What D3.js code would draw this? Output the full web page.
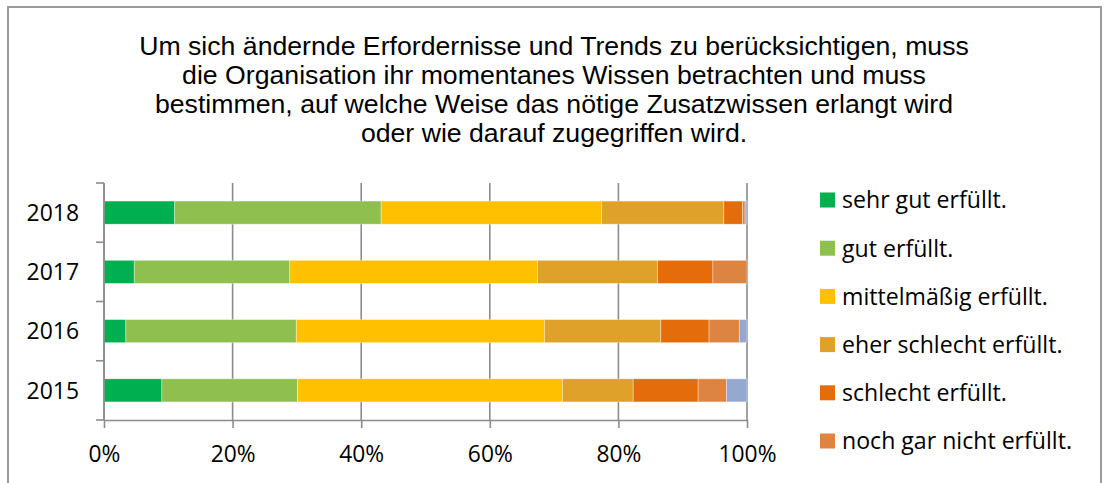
<!DOCTYPE html>
<html>
<head>
<meta charset="utf-8">
<script src="https://cdn.jsdelivr.net/npm/d3@7"></script>
<style>
  html, body { margin: 0; padding: 0; background: #fff; }
  svg { display: block; }
</style>
</head>
<body>
<svg id="chart" width="1105" height="483"></svg>
<script>
// ---- data ----
const titleLines = [
  "Um sich ändernde Erfordernisse und Trends zu berücksichtigen, muss",
  "die Organisation ihr momentanes Wissen betrachten und muss",
  "bestimmen, auf welche Weise das nötige Zusatzwissen erlangt wird",
  "oder wie darauf zugegriffen wird."
];
const years = ["2018", "2017", "2016", "2015"];
const seriesNames = [
  "sehr gut erfüllt.",
  "gut erfüllt.",
  "mittelmäßig erfüllt.",
  "eher schlecht erfüllt.",
  "schlecht erfüllt.",
  "noch gar nicht erfüllt.",
  "keine Angabe."
];
const seriesColors = ["#00B050", "#8FBF4F", "#FFC000", "#E0A12A", "#E46C0A", "#DD8442", "#95A9D0"];
// percentages per year, one array per series (order of years above)
const sehrGut      = [11.0,  4.7,  3.4,  9.0];
const gut          = [32.1, 24.2, 26.5, 21.1];
const mittelmaessig= [34.3, 38.5, 38.6, 41.2];
const eherSchlecht = [19.0, 18.7, 18.1, 11.0];
const schlecht     = [ 2.9,  8.6,  7.5, 10.1];
const nochGarNicht = [ 0.4,  5.3,  4.7,  4.4];
const keineAngabe  = [ 0.3,  0.0,  1.2,  3.2];
const xTicks = [0, 0.2, 0.4, 0.6, 0.8, 1.0];
const visibleLegendItems = 6; // the 7th entry lies below the visible area

const seriesValues = [sehrGut, gut, mittelmaessig, eherSchlecht, schlecht, nochGarNicht, keineAngabe];

// ---- build table ----
const rows = years.map((y, i) => {
  const r = { year: y };
  let total = 0;
  seriesValues.forEach(s => total += s[i]);
  seriesNames.forEach((n, k) => r[n] = seriesValues[k][i] / total);
  return r;
});
const stacked = d3.stack().keys(seriesNames)(rows);

const svg = d3.select("#chart");
const calibri = "'Open Sans', Lato, sans-serif";

function fitFont(sel, base, targetWidth) {
  sel.attr("font-size", base);
  const w = sel.node().getComputedTextLength();
  return base * targetWidth / w;
}

// outer border
svg.append("rect")
  .attr("x", 8).attr("y", 7).attr("width", 1093).attr("height", 520)
  .attr("fill", "#fff").attr("stroke", "#9a9a9a").attr("stroke-width", 2);

// title
const title = svg.append("g");
titleLines.forEach((t, i) => {
  title.append("text")
    .attr("x", 554).attr("y", 55 + i * 29)
    .attr("text-anchor", "middle")
    .attr("font-family", "'Liberation Sans', Arial, sans-serif")
    .attr("font-size", 22)
    .attr("fill", "#000")
    .text(t);
});
{
  const fs = fitFont(title.select("text"), 22, 830);
  title.selectAll("text").attr("font-size", fs.toFixed(2));
}

// scales
const x = d3.scaleLinear().domain([0, 1]).range([104, 747]);
const y = d3.scaleBand().domain(years).range([183, 420]).paddingInner(0.61).paddingOuter(0.305);

const axisColor = "#8c8c8c";

// gridlines
svg.append("g").selectAll("line").data(xTicks).join("line")
  .attr("x1", d => x(d)).attr("x2", d => x(d))
  .attr("y1", 183).attr("y2", 420)
  .attr("stroke", axisColor).attr("stroke-width", 1.6);

// bars
svg.append("g").selectAll("g").data(stacked).join("g")
  .attr("fill", (d, i) => seriesColors[i])
  .selectAll("rect").data(d => d).join("rect")
  .attr("x", d => x(d[0]))
  .attr("width", d => Math.max(0, x(d[1]) - x(d[0])))
  .attr("y", d => y(d.data.year))
  .attr("height", y.bandwidth())
  .attr("stroke", "#ffffff").attr("stroke-opacity", 0.5).attr("stroke-width", 0.7);

// font sizes for Calibri-like texts fitted to reference widths
const probe = svg.append("text").attr("font-family", calibri).text("100%");
const tickFs = fitFont(probe, 20, 58);
probe.text("2018");
const yearFs = fitFont(probe, 20, 52.5);
probe.text(seriesNames[0]);
const legendFs = fitFont(probe, 20, 165);
probe.remove();

// x axis
const xAxis = svg.append("g")
  .attr("transform", "translate(0,420)")
  .call(d3.axisBottom(x).tickValues(xTicks).tickFormat(d3.format(".0%")).tickSizeInner(8).tickSizeOuter(0).tickPadding(18));
xAxis.select(".domain").attr("stroke", axisColor).attr("stroke-width", 1.6);
xAxis.selectAll(".tick line").attr("stroke", axisColor).attr("stroke-width", 1.6);
xAxis.selectAll(".tick text").attr("font-family", calibri).attr("font-size", tickFs).attr("fill", "#000");

// y axis
const boundaries = years.map(yy => y(yy) - y.step() * y.paddingInner() / 2).concat([420]);
const yAxisG = svg.append("g");
yAxisG.append("line").attr("x1", 104).attr("x2", 104).attr("y1", 183).attr("y2", 420)
  .attr("stroke", axisColor).attr("stroke-width", 1.6);
yAxisG.selectAll(".yt").data(boundaries).join("line").attr("class", "yt")
  .attr("x1", 96).attr("x2", 104).attr("y1", d => d).attr("y2", d => d)
  .attr("stroke", axisColor).attr("stroke-width", 1.6);
yAxisG.selectAll("text").data(years).join("text")
  .attr("x", 79).attr("y", d => y(d) + y.bandwidth() / 2)
  .attr("dy", "0.36em")
  .attr("text-anchor", "end")
  .attr("font-family", calibri).attr("font-size", yearFs).attr("fill", "#000")
  .text(d => d);

// legend
const legend = svg.append("g");
seriesNames.slice(0, visibleLegendItems).forEach((n, i) => {
  const cy = 200 + i * 48.2;
  legend.append("rect").attr("x", 820).attr("y", cy - 7.5).attr("width", 15).attr("height", 15)
    .attr("fill", seriesColors[i]);
  legend.append("text").attr("x", 842).attr("y", cy).attr("dy", "0.36em")
    .attr("font-family", calibri).attr("font-size", legendFs).attr("fill", "#000")
    .text(n);
});
</script>
</body>
</html>
